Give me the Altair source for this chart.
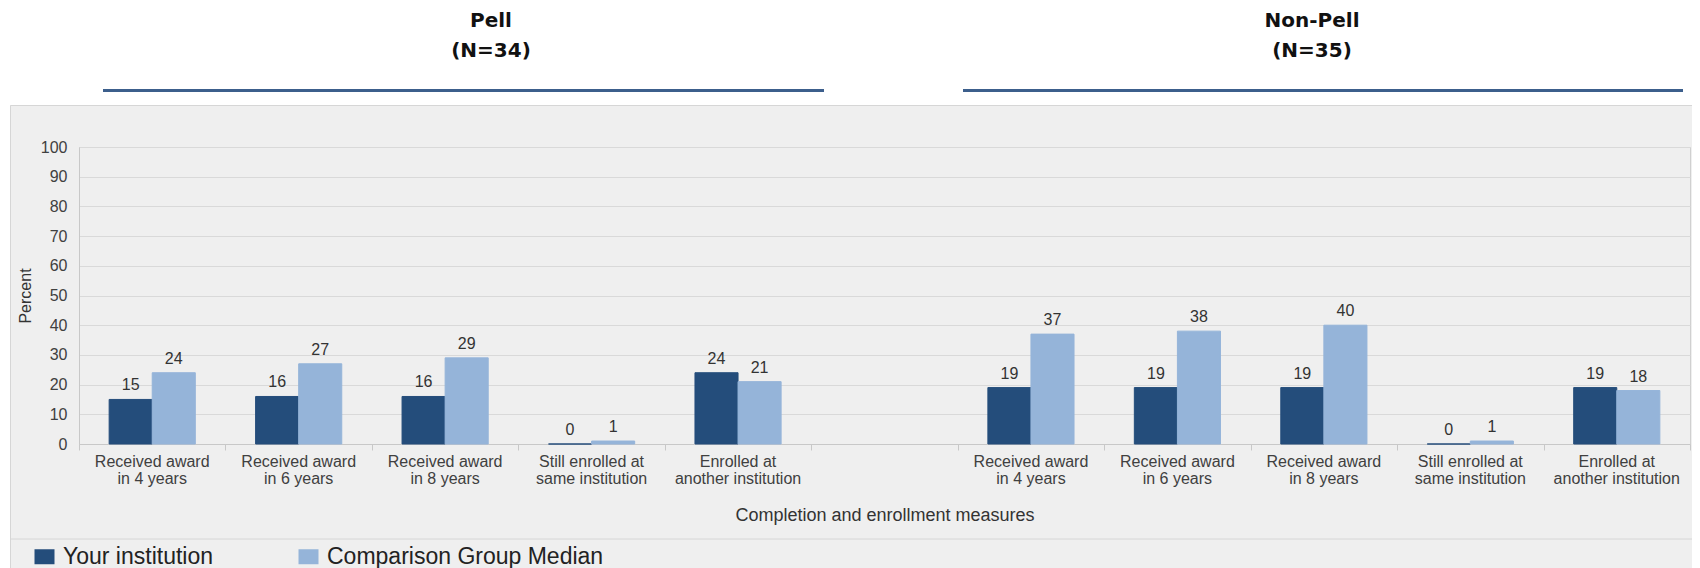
import altair as alt
import pandas as pd

groups = ["Pell", "Non-Pell"]
group_n = [34, 35]
measures = [
    "Received award\nin 4 years",
    "Received award\nin 6 years",
    "Received award\nin 8 years",
    "Still enrolled at\nsame institution",
    "Enrolled at\nanother institution",
]
series = ["Your institution", "Comparison Group Median"]
pell_yours = [15, 16, 16, 0, 24]
pell_comp = [24, 27, 29, 1, 21]
nonpell_yours = [19, 19, 19, 0, 19]
nonpell_comp = [37, 38, 40, 1, 18]
y_ticks = list(range(0, 101, 10))
colors = ["#244d7b", "#95b4d9"]

FONT = "Liberation Sans"

vals = {
    ("Pell", series[0]): pell_yours,
    ("Pell", series[1]): pell_comp,
    ("Non-Pell", series[0]): nonpell_yours,
    ("Non-Pell", series[1]): nonpell_comp,
}

keys = [f"Pell|{i}" for i in range(len(measures))] + ["gap"] + [f"Non-Pell|{i}" for i in range(len(measures))]

rows = []
for g in groups:
    for s in series:
        for i, v in enumerate(vals[(g, s)]):
            rows.append({"key": f"{g}|{i}", "series": s, "value": v})
bars_df = pd.DataFrame(rows)

lab_rows = []
for k in keys:
    if k == "gap":
        lab_rows.append({"key": k, "label": ""})
    else:
        lab_rows.append({"key": k, "label": measures[int(k.split("|")[1])]})
labels_df = pd.DataFrame(lab_rows)

W, H = 1611, 297
xscale = alt.Scale(domain=keys, paddingInner=0, paddingOuter=0)
offscale = alt.Scale(domain=series, paddingInner=0, paddingOuter=0.7)
cscale = alt.Scale(domain=series, range=colors)
yscale = alt.Scale(domain=[0, 100])

xaxis = alt.Axis(labels=False, tickBand="extent", tickSize=6, tickColor="#c8c8c8",
                 domainColor="#c8c8c8", title="Completion and enrollment measures",
                 titleFont=FONT, titleFontSize=18, titleFontWeight="normal",
                 titleColor="#333333", titlePadding=56, grid=False)
yaxis = alt.Axis(values=y_ticks, title="Percent", grid=True, gridColor="#d9d9d9",
                 ticks=False, labelPadding=12, domainColor="#c8c8c8",
                 labelFont=FONT, labelFontSize=16, labelColor="#404040",
                 titleFont=FONT, titleFontSize=16, titleFontWeight="normal",
                 titleColor="#333333", titlePadding=7)

one = alt.Data(values=[{"a": 1}])

# decorations: white header band, panel border, legend separator
white_top = alt.Chart(one).mark_rect(color="white").encode(
    x=alt.value(-71), x2=alt.value(W + 2), y=alt.value(-139), y2=alt.value(-42)
)
white_left = alt.Chart(one).mark_rect(color="white").encode(
    x=alt.value(-71), x2=alt.value(-69), y=alt.value(-42), y2=alt.value(H + 124)
)
panel_border = alt.Chart(one).mark_rect(fill=None, stroke="#d6d6d6", strokeWidth=1).encode(
    x=alt.value(-68.5), x2=alt.value(W + 3), y=alt.value(-41.5), y2=alt.value(H + 140)
)
legend_sep = alt.Chart(one).mark_rule(color="#d6d6d6", strokeWidth=1).encode(
    x=alt.value(-68), x2=alt.value(W + 3), y=alt.value(392)
)

bars = alt.Chart(bars_df).mark_bar(strokeWidth=1).encode(
    x=alt.X("key:N", scale=xscale, sort=keys, axis=xaxis),
    xOffset=alt.XOffset("series:N", scale=offscale, sort=series),
    y=alt.Y("value:Q", scale=yscale, axis=yaxis),
    color=alt.Color("series:N", scale=cscale, sort=series,
                    legend=alt.Legend(orient="none", legendX=-46, legendY=398, direction="horizontal",
                                      title=None, symbolType="M-1,-0.75H1V0.75H-1Z", symbolSize=400,
                                      symbolStrokeWidth=0, symbolOpacity=1,
                                      labelFont=FONT, labelFontSize=23, labelColor="#222222",
                                      labelLimit=500, columnPadding=83, labelOffset=7)),
    stroke=alt.Stroke("series:N", scale=cscale, sort=series, legend=None),
)

value_labels = alt.Chart(bars_df).mark_text(
    baseline="alphabetic", dy=-9, font=FONT, fontSize=16, color="#333333"
).encode(
    x=alt.X("key:N", scale=xscale, sort=keys, axis=xaxis),
    xOffset=alt.XOffset("series:N", scale=offscale, sort=series),
    y=alt.Y("value:Q", scale=yscale, axis=yaxis),
    text=alt.Text("value:Q"),
)

tick_labels = alt.Chart(labels_df).mark_text(
    baseline="alphabetic", lineBreak="\n", lineHeight=17, font=FONT, fontSize=16, color="#404040"
).encode(
    x=alt.X("key:N", scale=xscale, sort=keys, axis=xaxis),
    y=alt.value(H + 23),
    text="label:N",
)

header_pos = [(491 - 79, 103 - 79, 824 - 79), (1312 - 79, 963 - 79, 1683 - 79)]
header_layers = []
for g, n, (cx, x1, x2) in zip(groups, group_n, header_pos):
    hdf = pd.DataFrame({"t": [f"{g}\n(N={n})"]})
    header_layers.append(
        alt.Chart(hdf).mark_text(
            baseline="alphabetic", lineBreak="\n", lineHeight=30, font="DejaVu Sans", fontSize=20,
            fontWeight="bold", color="#111111"
        ).encode(x=alt.value(cx), y=alt.value(-120), text="t:N")
    )
    header_layers.append(
        alt.Chart(hdf).mark_rule(color="#3c5f8c", strokeWidth=3).encode(
            x=alt.value(x1), x2=alt.value(x2), y=alt.value(-56.5)
        )
    )

chart = alt.layer(
    white_top, white_left, panel_border, legend_sep, bars, value_labels, tick_labels, *header_layers
).properties(
    width=W, height=H,
    autosize=alt.AutoSizeParams(type="none"),
    padding={"left": 71, "top": 139, "right": 2, "bottom": 124},
    background="#efefef",
).configure_view(stroke="#d0d0d0")

chart.save("out.html", embed_options={"renderer": "svg", "actions": False})
